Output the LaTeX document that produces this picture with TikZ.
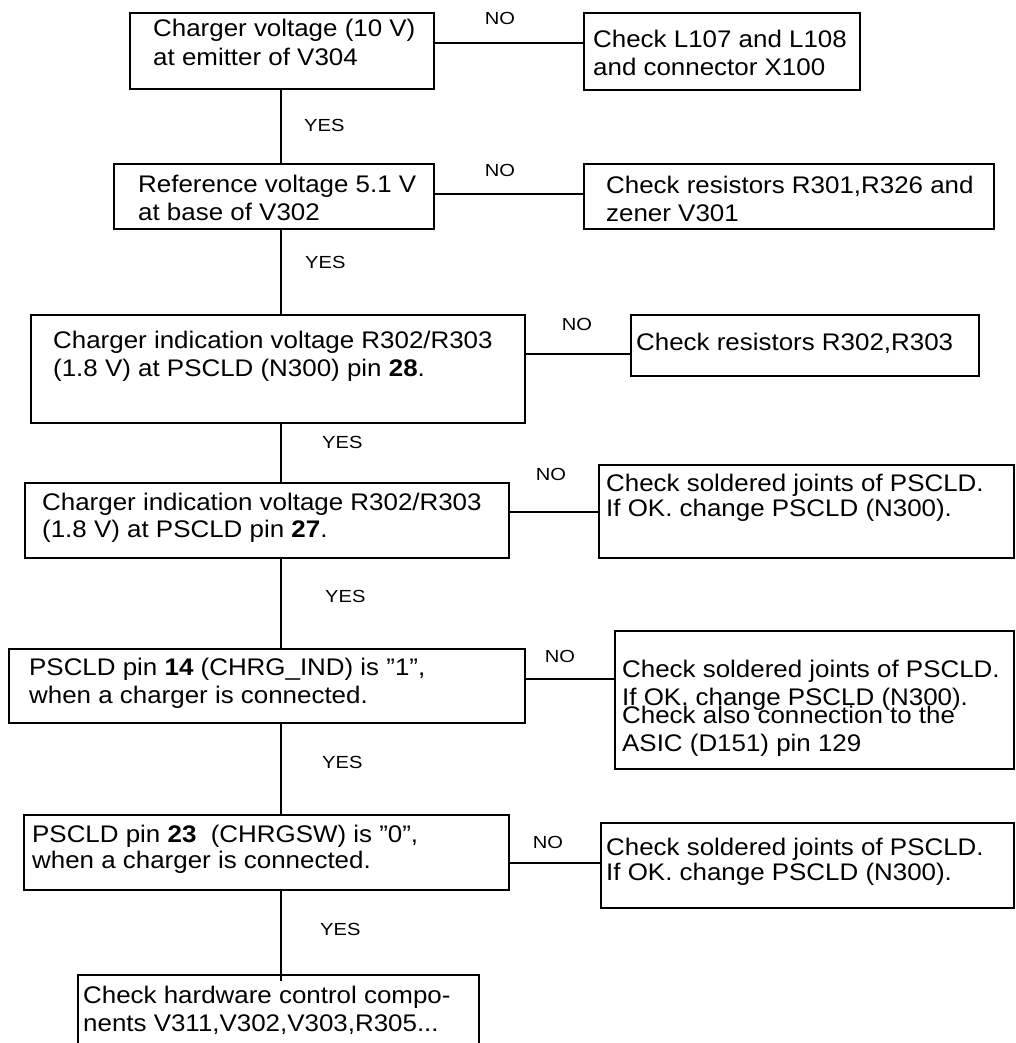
\documentclass[tikz,border=0pt]{standalone}
\usepackage{fontspec}
\setmainfont{Liberation Sans}[FakeStretch=1.08]
\newfontfamily\lblfont{Liberation Sans}[FakeStretch=1.15]
\newcommand\boxfont[1]{\fontsize{24}{#1}\selectfont}
\tikzset{
  box/.style={
    % The shape:
    shape=rectangle,anchor=north west,inner sep=0pt,
    % The border:
    line width=2.2pt,draw=black},
  txt/.style={
    % Text sits at the baseline of its last line
    anchor=base west,align=left,inner sep=0pt,
    font=\boxfont{28}}}
\tikzset{
  nolbl/.style={anchor=base,inner sep=0pt,font=\lblfont\fontsize{17.5}{20}\selectfont},
  yeslbl/.style={nolbl,anchor=base west},
  link/.style={line width=1.6pt}}

\begin{document}
\begin{tikzpicture}[x=1pt,y=-1pt]
	\useasboundingbox (0,0) rectangle (1016,1043);
	\clip (0,0) rectangle (1016,1043);
	\coordinate (spine) at (281,0);
	% Questions down the left
	\node[box,minimum width=304pt,minimum height=76pt] (q1) at (129,12) {};
	\node[box,minimum width=320pt,minimum height=65pt] (q2) at (113,163) {};
	\node[box,minimum width=494pt,minimum height=108pt] (q3) at (30,314) {};
	\node[box,minimum width=484pt,minimum height=75pt] (q4) at (24,482) {};
	\node[box,minimum width=516pt,minimum height=74pt] (q5) at (8,648) {};
	\node[box,minimum width=485pt,minimum height=75pt] (q6) at (23,814) {};
	\node[box,minimum width=401pt,minimum height=96pt] (q7) at (77,974) {};
	% Remedies on the right
	\node[box,minimum width=276pt,minimum height=77pt] (r1) at (583,12) {};
	\node[box,minimum width=410pt,minimum height=65pt] (r2) at (583,163) {};
	\node[box,minimum width=348pt,minimum height=61pt] (r3) at (630,314) {};
	\node[box,minimum width=415pt,minimum height=93pt] (r4) at (598,464) {};
	\node[box,minimum width=399pt,minimum height=138pt] (r5) at (614,630) {};
	\node[box,minimum width=413pt,minimum height=85pt] (r6) at (600,822) {};
	% Texts
	\node[txt,font=\boxfont{29}] (q1t) at (153,66) {Charger voltage (10 V)\\at emitter of V304};
	\node[txt] (q2t) at (138,220) {Reference voltage 5.1 V\\at base of V302};
	\node[txt] (q3t) at (53,376) {Charger indication voltage R302/R303\\(1.8 V) at PSCLD (N300) pin \textbf{28}.};
	\node[txt,font=\boxfont{27}] (q4t) at (42,537) {Charger indication voltage R302/R303\\(1.8 V) at PSCLD pin \textbf{27}.};
	\node[txt] (q5t) at (29,703) {PSCLD pin \textbf{14} (CHRG\_IND) is ”1”,\\when a charger is connected.};
	\node[txt,font=\boxfont{26}] (q6t) at (32,868) {PSCLD pin \textbf{23}\ \ (CHRGSW) is ”0”,\\when a charger is connected.};
	\node[txt] (q7t) at (83,1031) {Check hardware control compo-\\nents V311,V302,V303,R305...};
	\node[txt] (r1t) at (593,76) {Check L107 and L108\\and connector X100};
	\node[txt] (r2t) at (606,221) {Check resistors R301,R326 and\\zener V301};
	\node[txt] (r3t) at (636,350) {Check resistors R302,R303};
	\node[txt,font=\boxfont{25}] (r4t) at (606,516) {Check soldered joints of PSCLD.\\If OK. change PSCLD (N300).};
	\node[txt] (r5t) at (622,751) {Check soldered joints of PSCLD.\\If OK. change PSCLD (N300).\\[-10pt]Check also connection to the\\ASIC (D151) pin 129};
	\node[txt,font=\boxfont{25}] (r6t) at (606,880) {Check soldered joints of PSCLD.\\If OK. change PSCLD (N300).};
	% NO branches
	\draw[link] ([yshift=8pt]q1.east) -- ([yshift=8pt]q1.east -| r1.west);
	\draw[link] ([yshift=2.5pt]q2.east) -- ([yshift=2.5pt]q2.east -| r2.west);
	\draw[link] ([yshift=15pt]q3.east) -- ([yshift=15pt]q3.east -| r3.west);
	\draw[link] ([yshift=8.5pt]q4.east) -- ([yshift=8.5pt]q4.east -| r4.west);
	\draw[link] ([yshift=7pt]q5.east) -- ([yshift=7pt]q5.east -| r5.west);
	\draw[link] ([yshift=-10.5pt]q6.east) -- ([yshift=-10.5pt]q6.east -| r6.west);
	\node[nolbl] (no1) at (500,25) {NO};
	\node[nolbl] (no2) at (500,177) {NO};
	\node[nolbl] (no3) at (577,330) {NO};
	\node[nolbl] (no4) at (551,480) {NO};
	\node[nolbl] (no5) at (560,662) {NO};
	\node[nolbl] (no6) at (548,848) {NO};
	% YES branches
	\draw[link] (q1.south -| spine) -- (q2.north -| spine);
	\draw[link] (q2.south -| spine) -- (q3.north -| spine);
	\draw[link] (q3.south -| spine) -- (q4.north -| spine);
	\draw[link] (q4.south -| spine) -- (q5.north -| spine);
	\draw[link] (q5.south -| spine) -- (q6.north -| spine);
	\draw[link,shorten >=-7pt] (q6.south -| spine) -- (q7.north -| spine);
	\node[yeslbl] (yes1) at (304,132) {YES};
	\node[yeslbl] (yes2) at (305,268) {YES};
	\node[yeslbl] (yes3) at (322,448) {YES};
	\node[yeslbl] (yes4) at (325,602) {YES};
	\node[yeslbl] (yes5) at (322,768) {YES};
	\node[yeslbl] (yes6) at (320,935) {YES};
\end{tikzpicture}
\end{document}
